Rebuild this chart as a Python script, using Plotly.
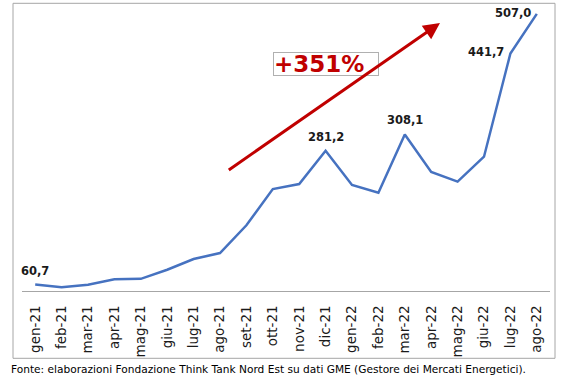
import plotly.graph_objects as go

months = ["gen-21", "feb-21", "mar-21", "apr-21", "mag-21", "giu-21", "lug-21", "ago-21",
          "set-21", "ott-21", "nov-21", "dic-21", "gen-22", "feb-22", "mar-22", "apr-22",
          "mag-22", "giu-22", "lug-22", "ago-22"]
pun = [60.7, 56.4, 60.4, 69.2, 70.0, 85.0, 102.8, 112.6,
       158.4, 218.0, 226.3, 281.2, 224.8, 212.0, 308.1, 246.2,
       230.3, 271.5, 441.7, 507.0]
labelled = ["gen-21", "dic-21", "mar-22", "lug-22", "ago-22"]
growth_text = "+351%"
source_text = "Fonte: elaborazioni Fondazione Think Tank Nord Est su dati GME (Gestore dei Mercati Energetici)."

fig = go.Figure()
fig.add_trace(go.Scatter(
    x=months, y=pun, mode="lines",
    line=dict(color="#4672c0", width=2.5),
    hoverinfo="x+y", showlegend=False,
))

annotations = []
for m, v in zip(months, pun):
    if m not in labelled:
        continue
    side = m in ("lug-22", "ago-22")
    annotations.append(dict(
        x=m, y=v, xref="x", yref="y",
        text=f"{v:.1f}".replace(".", ","),
        showarrow=False,
        font=dict(family="DejaVu Sans", size=11.5, color="#1a1a1a", weight="bold"),
        xanchor="right" if side else "center",
        yanchor="middle",
        xshift=-4 if side else 0,
        yshift=1 if side else 14,
    ))

# growth box
annotations.append(dict(
    x=(273 - 22) / 528, y=(290.7 - 52) / 285, xref="paper", yref="paper",
    xanchor="left", yanchor="top",
    text="<b>" + growth_text + "</b>", align="left",
    showarrow=False, width=104, height=22,
    bordercolor="#b0b0b0", borderwidth=1, borderpad=0, bgcolor="rgba(255,255,255,0)",
    font=dict(family="DejaVu Sans", size=23, color="#c00000"),
))
# arrow
annotations.append(dict(
    x=(440 - 22) / 528, y=(290.7 - 22.7) / 285, xref="paper", yref="paper",
    ax=-212.7, ay=148, axref="pixel", ayref="pixel",
    text="", showarrow=True, arrowhead=2, arrowsize=1.1, arrowwidth=3,
    arrowcolor="#c00000",
))
# source
annotations.append(dict(
    x=(9 - 22) / 528, y=(290.7 - 369) / 285, xref="paper", yref="paper",
    xanchor="left", yanchor="middle", showarrow=False,
    text=source_text,
    font=dict(family="DejaVu Sans", size=10.6, color="#000000"),
))

fig.update_layout(
    width=570, height=380,
    margin=dict(l=22, r=20, t=6, b=89),
    paper_bgcolor="white", plot_bgcolor="white",
    annotations=annotations,
    shapes=[dict(type="rect", xref="paper", yref="paper",
                 x0=(13 - 22) / 528, x1=(555 - 22) / 528,
                 y0=(290.7 - 358) / 285, y1=(290.7 - 3) / 285,
                 line=dict(color="#a6a6a6", width=1), fillcolor="rgba(0,0,0,0)")],
    xaxis=dict(type="category", range=[-0.5, len(months) - 0.5],
               showline=True, linecolor="#a6a6a6", linewidth=1,
               showgrid=False, ticks="", tickangle=-90,
               ticklabelstandoff=8,
               tickfont=dict(family="DejaVu Sans", size=13.5, color="#1a1a1a")),
    yaxis=dict(range=[50, 520], showticklabels=False, showgrid=False,
               zeroline=False, showline=False, ticks=""),
)

fig.write_html("out.html", config={"displayModeBar": False},
               post_script="document.body.style.margin='0';")
